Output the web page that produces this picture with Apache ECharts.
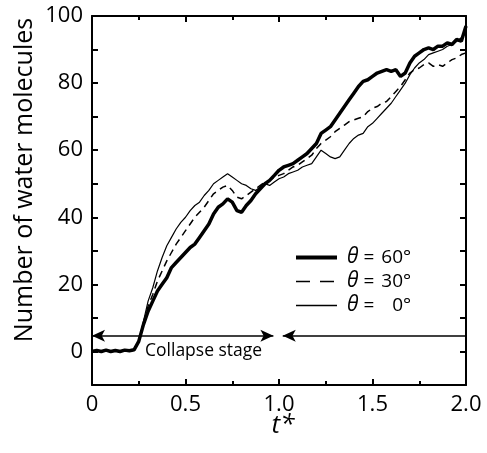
<!DOCTYPE html>
<html>
<head>
<meta charset="utf-8">
<script src="https://cdn.jsdelivr.net/npm/echarts@6/dist/echarts.min.js"></script>
<style>html,body{margin:0;padding:0;background:#fff;}#c{width:487px;height:453px;}</style>
</head>
<body>
<div id="c"></div>
<script>
var tValues = [0,0.025,0.05,0.075,0.1,0.125,0.15,0.175,0.2,0.225,0.25,0.275,0.3,0.325,0.35,0.375,0.4,0.425,0.45,0.475,0.5,0.525,0.55,0.575,0.6,0.625,0.65,0.675,0.7,0.725,0.75,0.775,0.8,0.825,0.85,0.875,0.9,0.925,0.95,0.975,1.0,1.025,1.05,1.075,1.1,1.125,1.15,1.175,1.2,1.225,1.25,1.275,1.3,1.325,1.35,1.375,1.4,1.425,1.45,1.475,1.5,1.525,1.55,1.575,1.6,1.625,1.65,1.675,1.7,1.725,1.75,1.775,1.8,1.825,1.85,1.875,1.9,1.925,1.95,1.975,2.0];
var theta60 = [0,0.3,0,0.4,0,0.3,0,0.4,0.2,0.5,3,8,12,15,18,20,22,25,26.5,28,29.5,31,32,34,36,38,41,43,44,45.5,44.5,42,41.5,43.5,45,47,48.5,50,51,52.5,54,55,55.5,56,57,58,59,60.5,62,65,66,67,69,71,73,75,77,79,80.5,81,82,83,83.5,84,83.5,84,82,83,86,88,89,90,90.5,90,91,91,92,91.5,93,92.5,97];
var theta30 = [0,0.2,0,0.3,0,0.2,0,0.3,0.1,0.4,3,8.5,13.5,17,21,24,27,29.5,32,34,36,38,40,41.5,43,45,47,48,49,49.5,48,46,45.5,46.5,47.5,48.5,49.5,50.5,51,52,52.5,53,54,55,55.5,56.5,57.5,58.5,60.5,62,63,64,65.5,66.5,67.5,68.5,69,69.5,70,71.5,72.5,73,74,74.5,76,77.5,79,81,83,84,84.5,85.5,86,85,85.5,85,86,87,87.5,88.5,89];
var theta0 = [0,0.2,0,0.3,0,0.2,0,0.3,0.1,0.4,3,9,15,19,24,28,31.5,34,36.5,38.5,40,42,43.5,44.5,46.5,48,50,51,52,53,52,51,50,49.5,48.5,48,49,50,49.5,50.5,51.5,52,53,53.5,54,55,55.5,56,58,60,59,58,57.5,58,60,62,63.5,64.5,65,67,68,69.5,71,72.5,74,76,78,80,82.5,84.5,86,87,88.5,89,89.5,90,91,91.5,92.5,93.5,96];
var seriesNames = ['60', '30', '0'];
var xTickLabels = ['0', '0.5', '1.0', '1.5', '2.0'];
var yTickLabels = ['0', '20', '40', '60', '80', '100'];
var arrowLevel = 4.7;
var collapseEnd = 0.97;
var nextStart = 1.02;

function pairs(arr) { return tValues.map(function (t, i) { return [t, arr[i]]; }); }

var chart = echarts.init(document.getElementById('c'), null, {renderer: 'canvas'});
var FONT = 'Open Sans';
var axisLineStyle = {color: '#000', width: 2};
var tickStyle = {color: '#000', width: 2};
function xAx(pos, labels) {
  return {
    type: 'value', min: 0, max: 2, interval: 0.5, position: pos,
    axisLine: {show: true, onZero: false, lineStyle: axisLineStyle},
    axisTick: {inside: true, length: 6, lineStyle: tickStyle},
    minorTick: {show: true, splitNumber: 2, length: 4, lineStyle: tickStyle},
    splitLine: {show: false}, minorSplitLine: {show: false},
    axisLabel: labels ? {color: '#000', fontSize: 22, fontFamily: FONT, margin: 9,
      formatter: function (v) { var i = Math.round(v / 0.5); return xTickLabels[i] || ''; }} : {show: false}
  };
}
function yAx(pos, labels) {
  return {
    type: 'value', min: -10, max: 100, interval: 10, position: pos,
    axisLine: {show: true, onZero: false, lineStyle: axisLineStyle},
    axisTick: {inside: true, length: 6, lineStyle: tickStyle},
    splitLine: {show: false},
    axisLabel: labels ? {color: '#000', fontSize: 22, fontFamily: FONT, margin: 9,
      formatter: function (v) { return (v % 20 === 0 && v >= 0) ? yTickLabels[v / 20] : ''; }} : {show: false}
  };
}
var option = {
  animation: false,
  backgroundColor: '#fff',
  grid: {left: 92, right: 21, top: 16, bottom: 68, containLabel: false},
  xAxis: [xAx('bottom', true), xAx('top', false)],
  yAxis: [yAx('left', true), yAx('right', false)],
  legend: {
    show: true,
    orient: 'vertical', left: 289, top: 242, itemWidth: 41, itemHeight: 14, itemGap: 3,
    itemStyle: {opacity: 0},
    textStyle: {color: '#000', fontSize: 19, fontFamily: FONT, padding: [0, 0, 0, 5],
      rich: {
        i: {fontStyle: 'italic', fontSize: 21, fontFamily: FONT, lineHeight: 20},
        e: {fontSize: 19, fontFamily: FONT, lineHeight: 20},
        n: {fontSize: 19, fontFamily: FONT, width: 32, align: 'right', lineHeight: 20}
      }},
    formatter: function (name) { return '{i|θ}{e| = }{n|' + name + '°}'; },
    data: [
      {name: seriesNames[0], itemStyle: {opacity: 0}, lineStyle: {width: 4, color: '#000', type: 'solid'}},
      {name: seriesNames[1], itemStyle: {opacity: 0}, lineStyle: {width: 1.5, color: '#000', type: [14, 10]}},
      {name: seriesNames[2], itemStyle: {opacity: 0}, lineStyle: {width: 1.3, color: '#000', type: 'solid'}}
    ]
  },
  series: [
    {name: seriesNames[0], type: 'line', data: pairs(theta60), showSymbol: false, symbol: 'none',
      lineStyle: {color: '#000', width: 3.5}, itemStyle: {color: '#000'}, z: 4},
    {name: seriesNames[1], type: 'line', data: pairs(theta30), showSymbol: false, symbol: 'none',
      lineStyle: {color: '#000', width: 1.5, type: [7, 5]}, itemStyle: {color: '#000'}, z: 3},
    {name: seriesNames[2], type: 'line', data: pairs(theta0), showSymbol: false, symbol: 'none',
      lineStyle: {color: '#000', width: 1.2}, itemStyle: {color: '#000'}, z: 3,
      markLine: {
        silent: true, symbolSize: [9, 13], label: {show: false},
        lineStyle: {color: '#000', width: 1.5, type: 'solid'},
        data: [
          [{coord: [0, arrowLevel], symbol: 'arrow'}, {coord: [collapseEnd, arrowLevel], symbol: 'arrow'}],
          [{coord: [nextStart, arrowLevel], symbol: 'arrow'}, {coord: [2, arrowLevel], symbol: 'none'}]
        ]
      }}
  ],
  graphic: [
    {type: 'text', x: 145, y: 351, style: {text: 'Collapse stage', fill: '#000', font: '17.5px "Open Sans"', textVerticalAlign: 'middle'}},
    {type: 'text', x: 25, y: 180, rotation: Math.PI / 2, style: {text: 'Number of water molecules', fill: '#000', font: '25px "Open Sans"', textAlign: 'center', textVerticalAlign: 'middle'}},
    {type: 'text', x: 283, y: 426, style: {text: 't*', fill: '#000', font: 'italic 26px "Open Sans"', textAlign: 'center', textVerticalAlign: 'middle'}}
  ]
};
chart.setOption(option);
</script>
</body>
</html>
